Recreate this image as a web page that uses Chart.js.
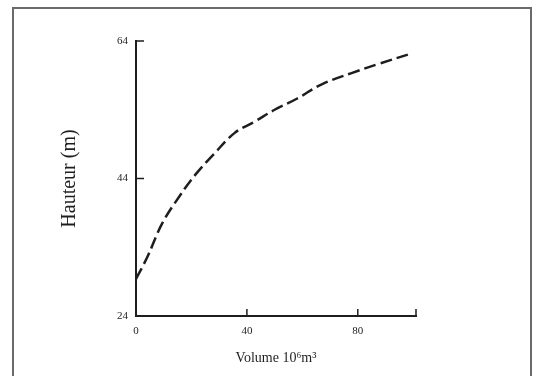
<!DOCTYPE html>
<html>
<head>
<meta charset="utf-8">
<script src="https://cdn.jsdelivr.net/npm/chart.js@4.4.0/dist/chart.umd.min.js"></script>
<style>
  html, body { margin: 0; padding: 0; background: #fff; }
  .wrap { position: relative; width: 533px; height: 376px; overflow: hidden; }
  .frame { position: absolute; left: 12px; top: 7px; width: 516px; height: 400px; border: 2px solid #6a6a6a; }
  canvas { position: absolute; left: 0; top: 0; }
</style>
</head>
<body>
<div class="wrap">
  <div class="frame"></div>
  <canvas id="chart" width="533" height="376"></canvas>
</div>
<script>
// Volume (10^6 m3) vs hauteur (m)
const volumes = [0, 4, 9.5, 16, 21.5, 28, 35.5, 42.5, 50, 58, 67, 77.5, 87, 99.5];
const hauteurs = [29.4, 32.5, 37.5, 41.6, 44.6, 47.5, 50.6, 52.2, 54, 55.6, 57.7, 59.3, 60.6, 62.2];

const xTicks = [0, 40, 80];
const xMax = 101;
const yTicks = [24, 44, 64];

const ink = '#1e1e1e';

// petits traits de graduation tournés vers l'intérieur
const innerTicks = {
    id: 'innerTicks',
    afterDraw(chart) {
        const ctx = chart.ctx;
        const x = chart.scales.x, y = chart.scales.y;
        ctx.save();
        ctx.strokeStyle = ink;
        ctx.lineWidth = 1.5;
        ctx.beginPath();
        yTicks.slice(1).forEach(v => {
            const py = y.getPixelForValue(v);
            ctx.moveTo(x.left, py);
            ctx.lineTo(x.left + 8, py);
        });
        xTicks.slice(1).concat([xMax]).forEach(v => {
            const px = x.getPixelForValue(v);
            ctx.moveTo(px, y.bottom);
            ctx.lineTo(px, y.bottom - 7);
        });
        ctx.stroke();
        ctx.restore();
    }
};

const serif = "'Liberation Serif', 'DejaVu Serif', serif";

new Chart(document.getElementById('chart'), {
    type: 'line',
    data: {
        datasets: [{
            data: volumes.map((v, i) => ({ x: v, y: hauteurs[i] })),
            borderColor: ink,
            borderWidth: 2.5,
            borderDash: [12, 5],
            tension: 0.4,
            pointRadius: 0,
            fill: false
        }]
    },
    options: {
        responsive: false,
        animation: false,
        layout: { padding: { top: 41, right: 117, bottom: 0, left: 0 } },
        plugins: { legend: { display: false }, tooltip: { enabled: false } },
        scales: {
            x: {
                type: 'linear',
                min: 0,
                max: xMax,
                afterBuildTicks: s => { s.ticks = xTicks.concat([xMax]).map(v => ({ value: v })); },
                afterFit: s => { s.height = 60; },
                grid: { display: false, drawTicks: false },
                border: { display: true, color: ink, width: 2 },
                ticks: {
                    color: ink,
                    padding: 9,
                    maxRotation: 0,
                    font: { family: serif, size: 11 },
                    callback: v => xTicks.includes(v) ? String(v) : ''
                },
                title: {
                    display: true,
                    text: 'Volume 10⁶m³',
                    color: ink,
                    font: { family: serif, size: 14 },
                    padding: { top: 0, bottom: 9 }
                }
            },
            y: {
                min: 24,
                max: 64,
                afterBuildTicks: s => { s.ticks = yTicks.map(v => ({ value: v })); },
                afterFit: s => { s.width = 136; },
                grid: { display: false, drawTicks: false },
                border: { display: true, color: ink, width: 2 },
                ticks: {
                    color: ink,
                    padding: 8,
                    font: { family: serif, size: 11 }
                },
                title: {
                    display: true,
                    text: 'Hauteur (m)',
                    color: ink,
                    font: { family: serif, size: 20 },
                    padding: { top: 58, bottom: 0 }
                }
            }
        }
    },
    plugins: [innerTicks]
});
</script>
</body>
</html>
